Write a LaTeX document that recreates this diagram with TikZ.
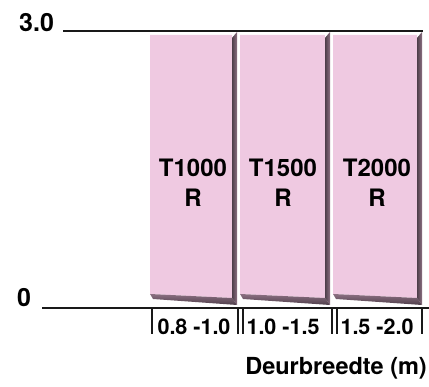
\documentclass[tikz,border=0pt]{standalone}
\usepackage{fontspec}
\setmainfont{TeX Gyre Heros}
\definecolor{barpink}{RGB}{239,201,225}
\definecolor{edgedark}{RGB}{78,62,74}
\definecolor{edgemid}{RGB}{140,112,130}
\begin{document}
\begin{tikzpicture}[x=1pt,y=-1pt,
  axisline/.style={line width=2.3pt,black!90},
  tick/.style={line width=1.3pt,black!90},
  big/.style={font=\fontsize{24}{26}\selectfont\bfseries,inner sep=0pt,anchor=base},
  rangelbl/.style={font=\fontsize{21.5}{24}\selectfont\bfseries,inner sep=0pt,anchor=base},
  axislbl/.style={font=\fontsize{23.5}{25}\selectfont\bfseries,inner sep=0pt}]
\useasboundingbox (0,0) rectangle (429,387);
% bars
\foreach \l/\r in {150/232,240/325,333/417}{
  \pgfmathsetmacro{\e}{\r+5}
  \fill[barpink] (\l,35) -- (\r,35) -- (\r,298) -- (\l,294) -- cycle;
  \shade[top color=edgemid,bottom color=edgedark] (\l,294) -- (\r,298) -- (\e,305) -- (\l+3,299) -- cycle;
  \shade[left color=edgedark,right color=edgemid] (\r,38) -- (\e,32) -- (\e,305) -- (\r,298) -- cycle;
}
% axes
\coordinate (t0) at (63,31);
\coordinate (t1) at (423,31);
\coordinate (b0) at (42,308);
\coordinate (b1) at (429,308);
\draw[axisline] (t0) -- (t1);
\draw[axisline] (b0) -- (b1);
\node[big,font=\fontsize{25}{27}\selectfont\bfseries,anchor=base west] (v3) at (19,32) {3.0};
\node[big,font=\fontsize{25}{27}\selectfont\bfseries,anchor=base west] (v0) at (17,307) {0};
% ticks
\foreach \x [count=\i] in {152,238,243,332,337,422}{
  \coordinate (k\i a) at (\x,309);
  \coordinate (k\i b) at (\x,334);
  \draw[tick] (k\i a) -- (k\i b);
}
% bar labels
\node[big] (n1) at (193,177) {T1000};
\node[big] (r1) at (193,207) {R};
\node[big] (n2) at (283,177) {T1500};
\node[big] (r2) at (283,207) {R};
\node[big] (n3) at (377,177) {T2000};
\node[big] (r3) at (377,207) {R};
% ranges
\node[rangelbl] (g1) at (194,335) {0.8 -1.0};
\node[rangelbl] (g2) at (283,335) {1.0 -1.5};
\node[rangelbl] (g3) at (377,335) {1.5 -2.0};
\node[axislbl,anchor=base east] (ax) at (427,375) {Deurbreedte (m)};
\end{tikzpicture}
\end{document}
